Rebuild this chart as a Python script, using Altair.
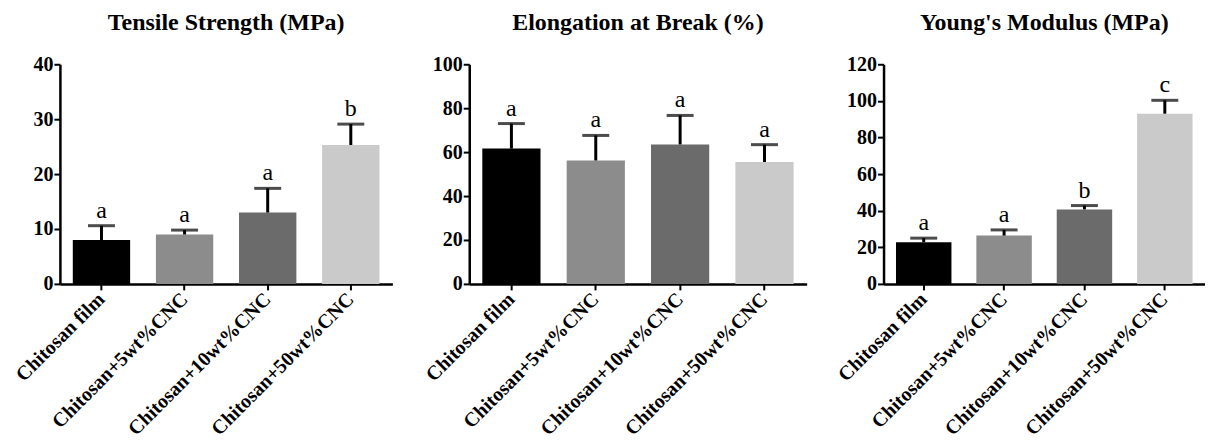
import altair as alt
import pandas as pd

groups = ["Chitosan film", "Chitosan+5wt%CNC", "Chitosan+10wt%CNC", "Chitosan+50wt%CNC"]
bar_colors = ["#000000", "#8c8c8c", "#6b6b6b", "#cacaca"]

ts_mean = [8.0, 9.0, 13.0, 25.3]
ts_sd = [2.6, 0.8, 4.4, 3.8]
ts_letters = ["a", "a", "a", "b"]

eb_mean = [61.6, 56.2, 63.5, 55.5]
eb_sd = [11.4, 11.4, 13.2, 7.9]
eb_letters = ["a", "a", "a", "a"]

ym_mean = [22.8, 26.4, 40.7, 93.0]
ym_sd = [2.2, 3.1, 2.1, 7.3]
ym_letters = ["a", "a", "b", "c"]

FONT = "Liberation Serif"


def panel(title, means, sds, letters, ymax, step, width):
    df = pd.DataFrame({
        "group": groups,
        "mean": means,
        "upper": [m + s for m, s in zip(means, sds)],
        "letter": letters,
    })
    yscale = alt.Scale(domain=[0, ymax], nice=False)
    xscale = alt.Scale(paddingInner=0.31, paddingOuter=0.155)
    xaxis = alt.Axis(labelAngle=315, labelAlign="right", labelBaseline="middle",
                     labelFont=FONT, labelFontWeight="bold", labelFontSize=20,
                     labelColor="black", labelPadding=6, tickSize=6, tickWidth=2,
                     tickColor="black", domainColor="black", domainWidth=2.5,
                     labelLimit=400, labelOverlap=False)
    yaxis = alt.Axis(values=list(range(0, ymax + 1, step)), grid=False,
                     labelFont=FONT, labelFontWeight="bold", labelFontSize=20,
                     labelColor="black", labelPadding=1, tickSize=6, tickWidth=2,
                     tickColor="black", domainColor="black", domainWidth=2.5,
                     labelOverlap=False)

    def X():
        return alt.X("group:N", sort=groups, title=None, scale=xscale, axis=xaxis)

    def Y(field):
        return alt.Y(field, title=None, scale=yscale, axis=yaxis)

    base = alt.Chart(df)
    bars = base.mark_bar().encode(
        x=X(), y=Y("mean:Q"),
        color=alt.Color("group:N", scale=alt.Scale(domain=groups, range=bar_colors), legend=None),
    )
    err = base.mark_rule(color="black", strokeWidth=3).encode(
        x=X(), y=Y("mean:Q"), y2="upper:Q")
    cap = base.mark_tick(color="black", thickness=3, size=27, orient="horizontal").encode(
        x=X(), y=Y("upper:Q"))
    txt = base.mark_text(font=FONT, fontSize=24, color="black", baseline="bottom", dy=-3).encode(
        x=X(), y=Y("upper:Q"), text="letter:N")
    return alt.layer(bars, err, cap, txt).properties(
        width=width, height=220,
        title=alt.TitleParams(title, font=FONT, fontSize=24, fontWeight="bold",
                              color="black", anchor="middle", offset=19),
    )


p1 = panel("Tensile Strength (MPa)", ts_mean, ts_sd, ts_letters, 40, 10, 333)
p2 = panel("Elongation at Break (%)", eb_mean, eb_sd, eb_letters, 100, 20, 338)
p3 = panel("Young's Modulus (MPa)", ym_mean, ym_sd, ym_letters, 120, 20, 322)

chart = alt.hconcat(p1, p2, p3, spacing=77, bounds="flush").properties(
    padding={"left": 3, "top": 3, "right": 0, "bottom": 0}
).configure(background="white").configure_view(stroke=None)

chart.save("out.html", embed_options={"renderer": "svg", "actions": False})
